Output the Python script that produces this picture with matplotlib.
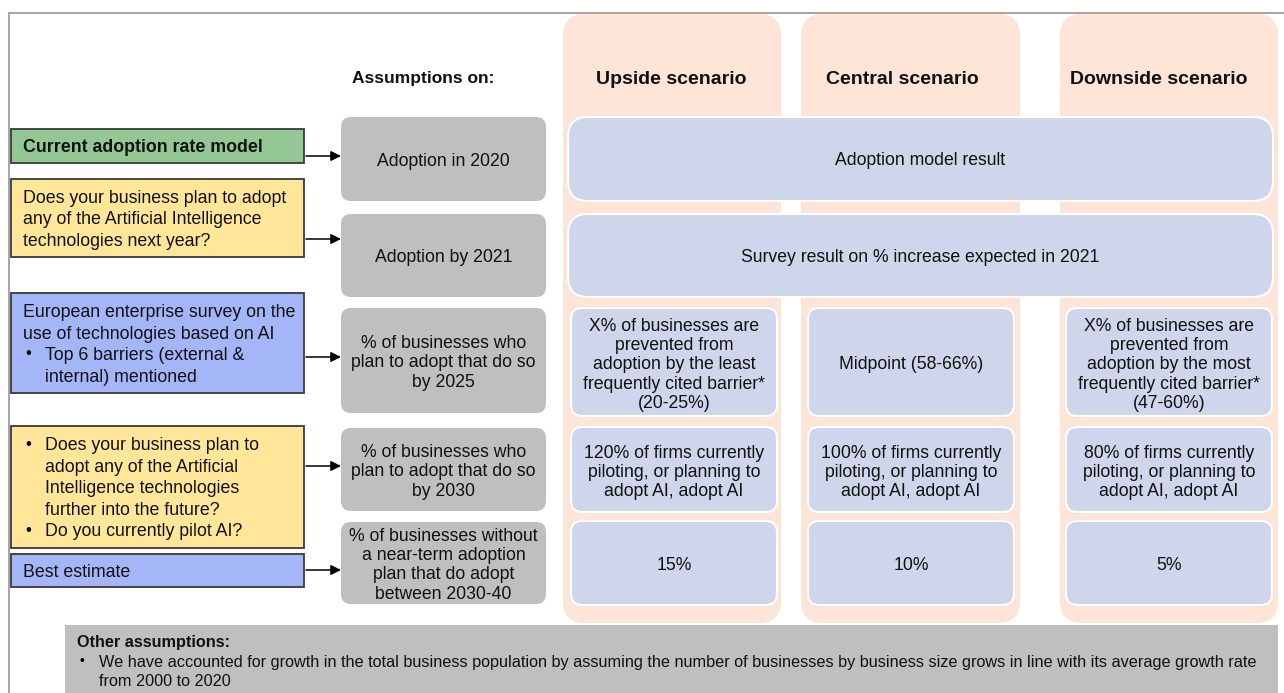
import matplotlib.pyplot as plt
from matplotlib.patches import FancyBboxPatch

plt.rcParams['font.family'] = ['Liberation Sans', 'DejaVu Sans']

# --- содержимое схемы ---
header_left = "Assumptions on:"
scenarios = ["Upside scenario", "Central scenario", "Downside scenario"]

left_labels = [
    ["Current adoption rate model"],
    ["Does your business plan to adopt", "any of the Artificial Intelligence", "technologies next year?"],
    ["European enterprise survey on the", "use of technologies based on AI",
     "•Top 6 barriers (external &", ">internal) mentioned"],
    ["•Does your business plan to", ">adopt any of the Artificial", ">Intelligence technologies",
     ">further into the future?", "•Do you currently pilot AI?"],
    ["Best estimate"],
]
left_colors = ["#93C794", "#FFE699", "#A4B6F7", "#FFE699", "#A4B6F7"]

assumptions = [
    "Adoption in 2020",
    "Adoption by 2021",
    "% of businesses who\nplan to adopt that do so\nby 2025",
    "% of businesses who\nplan to adopt that do so\nby 2030",
    "% of businesses without\na near-term adoption\nplan that do adopt\nbetween 2030-40",
]

shared_rows = ["Adoption model result", "Survey result on % increase expected in 2021"]

upside_cells = [
    "X% of businesses are\nprevented from\nadoption by the least\nfrequently cited barrier*\n(20-25%)",
    "120% of firms currently\npiloting, or planning to\nadopt AI, adopt AI",
    "15%",
]
central_cells = [
    "Midpoint (58-66%)",
    "100% of firms currently\npiloting, or planning to\nadopt AI, adopt AI",
    "10%",
]
downside_cells = [
    "X% of businesses are\nprevented from\nadoption by the most\nfrequently cited barrier*\n(47-60%)",
    "80% of firms currently\npiloting, or planning to\nadopt AI, adopt AI",
    "5%",
]

other_title = "Other assumptions:"
other_lines = ["We have accounted for growth in the total business population by assuming the number of businesses by business size grows in line with its average growth rate",
               "from 2000 to 2020"]

# --- геометрия (пиксели) ---
W, H = 1284, 693
left_boxes = [(129, 163), (179, 257), (293, 393), (426, 548), (554, 587)]
arrow_y = [156, 239, 357, 466, 570]
gray_rows = [(117, 201), (214, 297), (308, 413), (428, 511), (522, 604)]
col_x = [(563, 781), (801, 1020), (1060, 1278)]
head_x = [671, 902, 1159]
cell_x = [(571, 777), (808, 1014), (1066, 1272)]
cell_rows = [(308, 416), (427, 512), (521, 605)]

PEACH = "#FCE4D6"
CELL = "#CFD5EA"
GRAY = "#BFBFBF"


def rbox(ax, x0, y0, x1, y1, fc, r, ec="none", lw=0, z=1):
    p = FancyBboxPatch((x0, y0), x1 - x0, y1 - y0,
                       boxstyle=f"round,pad=0,rounding_size={r}",
                       fc=fc, ec=ec, lw=lw, zorder=z)
    ax.add_patch(p)


def txt(ax, x, y, s, size, ha="left", bold=False, z=5):
    # y - середина заглавных букв, ставим по базовой линии
    ax.text(x, y + 0.497 * size, s, ha=ha, va="baseline", fontsize=size,
            fontweight="bold" if bold else "normal", color="#111111", zorder=z)


def lines_center(ax, text, xc, yc, step=19.3, size=12.7):
    parts = text.split("\n")
    n = len(parts)
    for i, s in enumerate(parts):
        txt(ax, xc, yc + (i - (n - 1) / 2) * step, s, size, ha="center")


fig = plt.figure(figsize=(W / 100, H / 100), dpi=100)
ax = fig.add_axes([0, 0, 1, 1])
ax.set_xlim(0, W)
ax.set_ylim(H, 0)
ax.axis("off")

# рамка
ax.plot([8.5, W], [12.5, 12.5], color="#A6A6A6", lw=1.5, zorder=0)
ax.plot([8.5, 8.5], [12.5, H], color="#A6A6A6", lw=1.5, zorder=0)

# колонки сценариев
for (x0, x1), hx, name in zip(col_x, head_x, scenarios):
    rbox(ax, x0, 14, x1, 623, PEACH, 22, z=1)
    txt(ax, hx, 77, name, 14, ha="center", bold=True)

txt(ax, 423, 77, header_left, 12.5, ha="center", bold=True)

# общие строки
for (y0, y1), s in zip(gray_rows[:2], shared_rows):
    rbox(ax, 568, y0, 1273, y1, CELL, 20, ec="white", lw=1.5, z=2)
    lines_center(ax, s, 920, (y0 + y1) / 2)

# ячейки сценариев
for (x0, x1), cells in zip(cell_x, [upside_cells, central_cells, downside_cells]):
    for (y0, y1), s in zip(cell_rows, cells):
        rbox(ax, x0, y0, x1, y1, CELL, 11, ec="white", lw=1.5, z=2)
        lines_center(ax, s, (x0 + x1) / 2, (y0 + y1) / 2 + 1)

# серые блоки допущений
for (y0, y1), s in zip(gray_rows, assumptions):
    rbox(ax, 341, y0, 546, y1, GRAY, 10, z=2)
    lines_center(ax, s, 443.5, (y0 + y1) / 2 + 0.5)

# левые блоки с источниками
for (y0, y1), lines, c in zip(left_boxes, left_labels, left_colors):
    ax.add_patch(plt.Rectangle((11, y0), 293, y1 - y0, fc=c, ec="#3A3A3A", lw=1.3, zorder=2))
    bold = lines is left_labels[0]
    n = len(lines)
    yc = (y0 + y1) / 2
    for i, s in enumerate(lines):
        y = yc + (i - (n - 1) / 2) * 21.5
        xt = 23
        if s.startswith("•"):
            ax.text(25, y, "•", ha="left", va="center", fontsize=12, zorder=5)
            s, xt = s[1:], 45
        elif s.startswith(">"):
            s, xt = s[1:], 45
        txt(ax, xt, y, s, 12.8, bold=bold)

# стрелки
for y in arrow_y:
    ax.annotate("", xy=(341, y), xytext=(306, y),
                arrowprops=dict(arrowstyle="-|>", color="black", lw=1.1, mutation_scale=15,
                                shrinkA=0, shrinkB=0), zorder=4)

# прочие допущения
ax.add_patch(plt.Rectangle((65, 625), 1213, 80, fc=GRAY, ec="none", zorder=2))
txt(ax, 77, 641, other_title, 11.7, bold=True)
ax.text(80, 661, "•", ha="left", va="center", fontsize=10, zorder=5)
for i, s in enumerate(other_lines):
    txt(ax, 99, 661 + i * 19.5, s, 11.7)

fig.savefig("out.png", dpi=100)
